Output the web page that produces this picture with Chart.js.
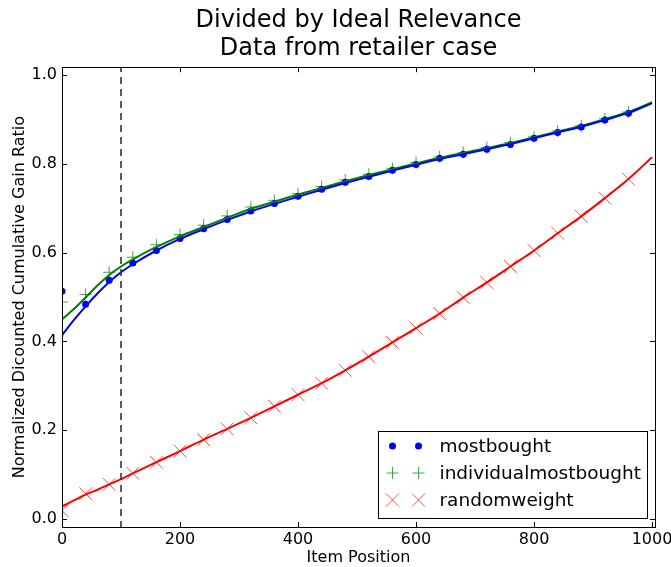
<!DOCTYPE html>
<html>
<head>
<meta charset="utf-8">
<title>Divided by Ideal Relevance</title>
<script src="https://cdn.jsdelivr.net/npm/chart.js@4.4.0/dist/chart.umd.min.js"></script>
<style>
  html, body { margin: 0; padding: 0; background: #fff; }
  #wrap { width: 671px; height: 567px; }
</style>
</head>
<body>
<div id="wrap"><canvas id="ndcgChart" width="671" height="567"></canvas></div>
<script>
const markerX = [0, 40, 80, 120, 160, 200, 240, 280, 320, 360, 400, 440, 480,
                 520, 560, 600, 640, 680, 720, 760, 800, 840, 880, 920, 960];
const boughtMarks = [0.513, 0.484, 0.538, 0.577, 0.605, 0.632, 0.654, 0.675, 0.694, 0.711, 0.727, 0.743, 0.759,
                     0.772, 0.786, 0.799, 0.813, 0.822, 0.833, 0.844, 0.858, 0.871, 0.883, 0.899, 0.914];
const indivMarks = [0.489, 0.506, 0.556, 0.590, 0.618, 0.641, 0.662, 0.683, 0.703, 0.718, 0.733, 0.749, 0.764,
                    0.777, 0.790, 0.803, 0.816, 0.826, 0.837, 0.848, 0.861, 0.874, 0.886, 0.902, 0.917];
const randomMarks = [0.019, 0.057, 0.078, 0.103, 0.128, 0.153, 0.179, 0.203, 0.228, 0.254, 0.280, 0.306, 0.335,
                     0.366, 0.398, 0.430, 0.463, 0.499, 0.533, 0.569, 0.605, 0.644, 0.682, 0.723, 0.766];

// Smooth curves drawn under the markers
const lineX = [0, 20, 40, 60, 80, 100, 120, 160, 200, 240, 280, 320, 360, 400, 440, 480,
               520, 560, 600, 640, 680, 720, 760, 800, 840, 880, 920, 960, 1000];
const boughtLine = [0.414, 0.448, 0.479, 0.508, 0.534, 0.556, 0.574, 0.605, 0.631, 0.653, 0.674, 0.693, 0.710, 0.726, 0.742, 0.757,
                    0.771, 0.785, 0.798, 0.811, 0.822, 0.833, 0.845, 0.858, 0.871, 0.884, 0.899, 0.915, 0.937];
const indivLine = [0.450, 0.473, 0.499, 0.526, 0.550, 0.569, 0.585, 0.613, 0.637, 0.658, 0.679, 0.699, 0.715, 0.731, 0.746, 0.761,
                   0.775, 0.788, 0.801, 0.814, 0.825, 0.836, 0.847, 0.860, 0.873, 0.886, 0.901, 0.917, 0.939];
const randomLine = [0.028, 0.042, 0.055, 0.066, 0.078, 0.090, 0.103, 0.128, 0.153, 0.179, 0.203, 0.228, 0.254, 0.280, 0.306, 0.335,
                    0.366, 0.398, 0.430, 0.463, 0.499, 0.533, 0.569, 0.605, 0.644, 0.682, 0.723, 0.766, 0.815];

const cutoffX = 100;
const xTicks = [0, 200, 400, 600, 800, 1000];
const yTicks = [0.0, 0.2, 0.4, 0.6, 0.8, 1.0];
const seriesNames = ["mostbought", "individualmostbought", "randomweight"];

const FONT = "'DejaVu Sans', sans-serif";
const toPoints = (xs, ys) => xs.map((x, i) => ({ x: x, y: ys[i] }));

// Legend with two markers per entry, like matplotlib's numpoints=2
const legendStyles = [
    { kind: "dot", color: "#0000ff" },
    { kind: "plus", color: "rgba(0,128,0,0.7)" },
    { kind: "x", color: "rgba(255,0,0,0.7)" },
];

function drawMarker(ctx, kind, color, x, y) {
    ctx.save();
    ctx.fillStyle = color;
    ctx.strokeStyle = color;
    ctx.lineWidth = 1;
    ctx.beginPath();
    if (kind === "dot") {
        ctx.arc(x, y, 3.5, 0, Math.PI * 2);
        ctx.fill();
    } else if (kind === "plus") {
        ctx.moveTo(x - 6, y); ctx.lineTo(x + 6, y);
        ctx.moveTo(x, y - 6); ctx.lineTo(x, y + 6);
        ctx.stroke();
    } else {
        ctx.moveTo(x - 6.5, y - 6.5); ctx.lineTo(x + 6.5, y + 6.5);
        ctx.moveTo(x - 6.5, y + 6.5); ctx.lineTo(x + 6.5, y - 6.5);
        ctx.stroke();
    }
    ctx.restore();
}

const framePlugin = {
    id: "frame",
    afterDatasetsDraw(chart) {
        const { ctx, chartArea: a, scales } = chart;
        ctx.save();
        ctx.strokeStyle = "#000";
        ctx.lineWidth = 1;
        ctx.strokeRect(Math.round(a.left) + 0.5, Math.round(a.top) + 0.5,
                       Math.round(a.right - a.left), Math.round(a.bottom - a.top));
        // inward ticks on all four sides
        ctx.beginPath();
        xTicks.forEach((v) => {
            const px = Math.round(scales.x.getPixelForValue(v)) + 0.5;
            ctx.moveTo(px, a.bottom); ctx.lineTo(px, a.bottom - 5);
            ctx.moveTo(px, a.top); ctx.lineTo(px, a.top + 5);
        });
        yTicks.forEach((v) => {
            const py = Math.round(scales.y.getPixelForValue(v)) + 0.5;
            ctx.moveTo(a.left, py); ctx.lineTo(a.left + 5, py);
            ctx.moveTo(a.right, py); ctx.lineTo(a.right - 5, py);
        });
        ctx.stroke();

        // legend box in the lower right corner
        const w = 269, h = 87;
        const bx = Math.round(a.right - 8 - w) + 0.5;
        const by = Math.round(a.bottom - 9 - h) + 0.5;
        ctx.fillStyle = "#fff";
        ctx.fillRect(bx, by, w, h);
        ctx.strokeRect(bx, by, w, h);
        ctx.font = "18.5px " + FONT;
        ctx.textBaseline = "middle";
        const rows = [14.5, 41.5, 68.5];
        seriesNames.forEach((name, i) => {
            const y = by + rows[i];
            const st = legendStyles[i];
            drawMarker(ctx, st.kind, st.color, bx + 14, y);
            drawMarker(ctx, st.kind, st.color, bx + 40, y);
            ctx.fillStyle = "#000";
            ctx.fillText(name, bx + 61, y + 1);
        });
        ctx.restore();
    },
};

const ctx = document.getElementById("ndcgChart").getContext("2d");

new Chart(ctx, {
    type: "line",
    data: {
        datasets: [
            {
                label: "cutoff",
                data: [{ x: cutoffX, y: -0.02 }, { x: cutoffX, y: 1.02 }],
                borderColor: "#333",
                borderWidth: 1.6,
                borderDash: [7, 5],
                pointRadius: 0,
            },
            {
                label: "randomweight line",
                data: toPoints(lineX, randomLine),
                borderColor: "#ff0000",
                borderWidth: 2,
                pointRadius: 0,
                cubicInterpolationMode: "monotone",
            },
            {
                label: "mostbought line",
                data: toPoints(lineX, boughtLine),
                borderColor: "#0000ff",
                borderWidth: 2,
                pointRadius: 0,
                cubicInterpolationMode: "monotone",
            },
            {
                label: "individualmostbought line",
                data: toPoints(lineX, indivLine),
                borderColor: "#008000",
                borderWidth: 2,
                pointRadius: 0,
                cubicInterpolationMode: "monotone",
            },
            {
                label: seriesNames[0],
                data: toPoints(markerX, boughtMarks),
                showLine: false,
                pointStyle: "circle",
                pointRadius: 3.5,
                pointBorderWidth: 0,
                pointBackgroundColor: "#0000ff",
                pointBorderColor: "#0000ff",
            },
            {
                label: seriesNames[1],
                data: toPoints(markerX, indivMarks),
                showLine: false,
                pointStyle: "cross",
                pointRadius: 6,
                pointBorderWidth: 1,
                pointBorderColor: "rgba(0,128,0,0.7)",
            },
            {
                label: seriesNames[2],
                data: toPoints(markerX, randomMarks),
                showLine: false,
                pointStyle: "crossRot",
                pointRadius: 9,
                pointBorderWidth: 1,
                pointBorderColor: "rgba(255,0,0,0.7)",
            },
        ],
    },
    options: {
        responsive: false,
        animation: false,
        layout: { padding: { top: 0, right: 16, bottom: 0, left: 0 } },
        plugins: {
            legend: { display: false },
            tooltip: { enabled: false },
            title: {
                display: true,
                fullSize: false,
                text: ["Divided by Ideal Relevance", "Data from retailer case"],
                color: "#000",
                font: { family: FONT, size: 24, weight: "normal", lineHeight: 1.15 },
                padding: { top: 7, bottom: 5 },
            },
        },
        scales: {
            x: {
                type: "linear",
                min: 0,
                max: 1005,
                grid: { display: false, drawTicks: false },
                border: { display: false },
                afterBuildTicks: (scale) => { scale.ticks = xTicks.map((v) => ({ value: v })); },
                afterFit: (scale) => { scale.height = 40; scale.paddingLeft = 0; scale.paddingRight = 0; },
                ticks: {
                    color: "#000",
                    padding: 3,
                    maxRotation: 0,
                    font: { family: FONT, size: 16 },
                    callback: (v) => String(v),
                },
                title: {
                    display: true,
                    text: "Item Position",
                    color: "#000",
                    font: { family: FONT, size: 16 },
                    padding: { top: 0, bottom: 0 },
                },
            },
            y: {
                type: "linear",
                min: -0.018,
                max: 1.018,
                grid: { display: false, drawTicks: false },
                border: { display: false },
                afterBuildTicks: (scale) => { scale.ticks = yTicks.map((v) => ({ value: v })); },
                afterFit: (scale) => { scale.width = 62; scale.paddingTop = 0; scale.paddingBottom = 0; },
                ticks: {
                    color: "#000",
                    padding: 5,
                    font: { family: FONT, size: 16 },
                    callback: (v) => v.toFixed(1),
                },
                title: {
                    display: true,
                    text: "Normalized Dicounted Cumulative Gain Ratio",
                    color: "#000",
                    font: { family: FONT, size: 16 },
                    padding: { top: 10, bottom: 0 },
                },
            },
        },
    },
    plugins: [framePlugin],
});
</script>
</body>
</html>
